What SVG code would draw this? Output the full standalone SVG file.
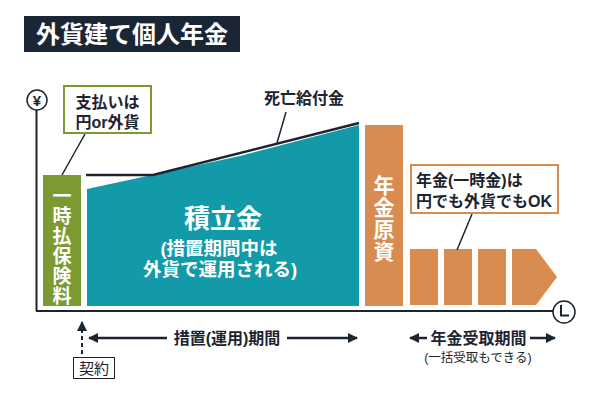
<svg xmlns="http://www.w3.org/2000/svg" width="600" height="400" viewBox="0 0 600 400">
<style>
text{font-family:"Liberation Sans","Noto Sans CJK JP",sans-serif;}
.b{font-weight:700;}
.w{fill:#ffffff;}
.d{fill:#1c2430;}
.ln{stroke:#1c2430;fill:none;}
.or{fill:#d98c4f;}
.v{font-family:"Noto Sans CJK JP",sans-serif;writing-mode:vertical-rl;text-orientation:upright;}
</style>
<defs>
<marker id="ah" viewBox="0 0 10 10" refX="9" refY="5" markerWidth="10" markerHeight="10" markerUnits="userSpaceOnUse" orient="auto-start-reverse">
<path d="M0,0 L10,5 L0,10 Z" fill="#1c2430"/>
</marker>
</defs>
<rect width="600" height="400" fill="#ffffff"/>
<g id="title">
<rect x="24" y="16" width="216" height="36" fill="#1a2535"/>
<text x="132" y="43" class="b w" font-size="24" text-anchor="middle">外貨建て個人年金</text>
</g>
<g id="axes">
<circle cx="37" cy="100" r="10" fill="#fff" stroke="#1c2430" stroke-width="1.5"/>
<text x="37" y="105.5" class="b d" font-size="15" text-anchor="middle">¥</text>
<line x1="36.5" y1="110" x2="36.5" y2="311" class="ln" stroke-width="2"/>
<line x1="36" y1="311" x2="553" y2="311" class="ln" stroke-width="2"/>
<circle cx="564" cy="312" r="11" fill="#fff" stroke="#1c2430" stroke-width="1.5"/>
<path d="M561,305 V315.5 H569" class="ln" stroke-width="2"/>
</g>
<g id="premium">
<rect x="43" y="175" width="38" height="131" fill="#7b9a32"/>
<text x="62" y="186" class="b w v" font-size="19" letter-spacing="1">一時払保険料</text>
</g>
<g id="pay-note">
<line x1="62" y1="175" x2="85" y2="134" class="ln" stroke-width="1.5"/>
<rect x="64" y="86" width="87" height="47" fill="#fff" stroke="#7b9a32" stroke-width="2"/>
<text class="b d" font-size="16" text-anchor="middle"><tspan x="107.5" y="108">支払いは</tspan><tspan x="107.5" y="128">円or外貨</tspan></text>
</g>
<g id="reserve">
<polygon points="87,189 240,156 359,125 359,306 87,306" fill="#129aa8"/>
<text x="223" y="228" class="b w" font-size="26" text-anchor="middle">積立金</text>
<text class="b w" font-size="18.5" text-anchor="middle"><tspan x="219" y="255">(措置期間中は</tspan><tspan x="220" y="276">外貨で運用される)</tspan></text>
</g>
<g id="death-benefit">
<polyline points="86,175 153,175 359,123" class="ln" stroke-width="2.5"/>
<line x1="286" y1="112" x2="277" y2="143" class="ln" stroke-width="1.5"/>
<text x="304" y="104" class="b d" font-size="16" text-anchor="middle">死亡給付金</text>
</g>
<g id="principal">
<rect x="365" y="125" width="38" height="181" class="or"/>
<text x="384" y="175" class="b w v" font-size="21" letter-spacing="1">年金原資</text>
</g>
<g id="payouts">
<rect x="410" y="249" width="28" height="56" class="or"/>
<rect x="444" y="249" width="28" height="56" class="or"/>
<rect x="478" y="249" width="28" height="56" class="or"/>
<polygon points="512,249 536,249 557,277 536,305 512,305" class="or"/>
</g>
<g id="payout-note">
<line x1="472" y1="214" x2="457" y2="250" class="ln" stroke-width="1.5"/>
<rect x="411" y="165" width="147" height="48" fill="#fff" stroke="#d98c4f" stroke-width="2"/>
<text class="b d" font-size="16"><tspan x="416" y="186">年金(一時金)は</tspan><tspan x="416" y="207">円でも外貨でもOK</tspan></text>
</g>
<g id="connectors">
<line x1="82" y1="354" x2="82" y2="322" class="ln" stroke-width="2" stroke-dasharray="4,3" marker-end="url(#ah)"/>
<line x1="167" y1="338" x2="89" y2="338" class="ln" stroke-width="2.5" marker-end="url(#ah)"/>
<line x1="287" y1="338" x2="357" y2="338" class="ln" stroke-width="2.5" marker-end="url(#ah)"/>
<line x1="427" y1="338" x2="410" y2="338" class="ln" stroke-width="2.5" marker-end="url(#ah)"/>
<line x1="530" y1="338" x2="555" y2="338" class="ln" stroke-width="2.5" marker-end="url(#ah)"/>
</g>
<g id="contract">
<rect x="73.5" y="357.5" width="41" height="21" fill="#fff" stroke="#1c2430" stroke-width="1"/>
<text x="94" y="374" class="d" font-size="15" text-anchor="middle">契約</text>
</g>
<g id="labels">
<text x="227" y="344" class="b d" font-size="16" text-anchor="middle">措置(運用)期間</text>
<text x="478.5" y="344" class="b d" font-size="16" text-anchor="middle">年金受取期間</text>
<text x="478" y="362" class="d" font-size="12.5" text-anchor="middle">(一括受取もできる)</text>
</g>
</svg>
